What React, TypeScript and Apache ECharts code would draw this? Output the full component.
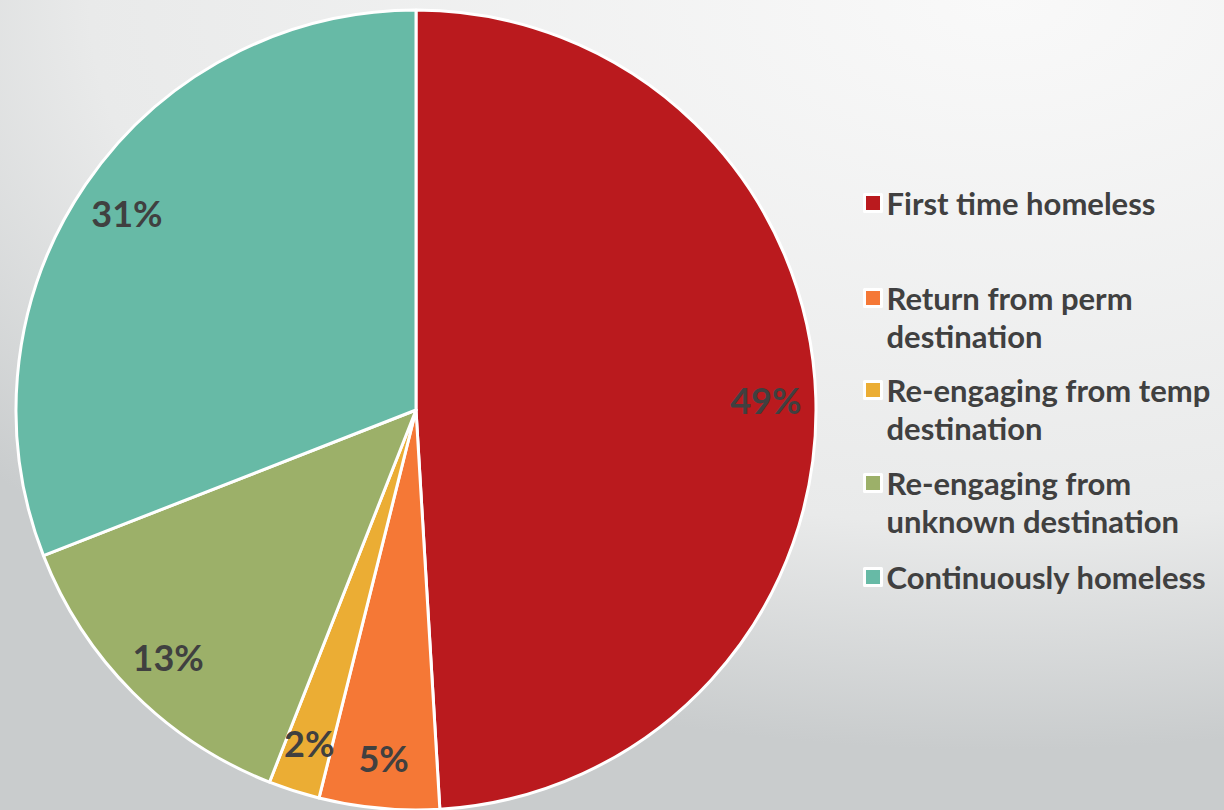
import React, { useEffect, useRef } from "react";
import * as echarts from "echarts";

const categories = [
  "First time homeless",
  "Return from perm destination",
  "Re-engaging from temp destination",
  "Re-engaging from unknown destination",
  "Continuously homeless",
];
const values = [49.05, 4.85, 2.07, 13.1, 30.93];
const legendLines = [
  ["First time homeless"],
  ["Return from perm", "destination"],
  ["Re-engaging from temp", "destination"],
  ["Re-engaging from", "unknown destination"],
  ["Continuously homeless"],
];
const colors = ["#BA1A1E", "#F57836", "#EBAD34", "#9CB069", "#67BAA6"];
const legendTops = [184, 241, 333, 426, 558];

const FONT = "Lato";
const TEXT = "#404040";

export default function App() {
  const ref = useRef<HTMLDivElement>(null);
  useEffect(() => {
    if (!ref.current) return;
    const chart = echarts.init(ref.current, null, { renderer: "svg" });
    const data = categories.map((name, i) => ({
      name,
      value: values[i],
      itemStyle: { color: colors[i] },
    }));
    const legends = categories.map((name, i) => ({
      data: [name],
      orient: "vertical",
      left: 863,
      top: legendTops[i],
      padding: 0,
      selectedMode: false,
      icon: "rect",
      itemWidth: 17,
      itemHeight: 17,
      itemStyle: { borderColor: "#ffffff", borderWidth: 3 },
      formatter: () =>
        legendLines[i].length > 1 ? " \n" + legendLines[i].join("\n") : legendLines[i][0],
      textStyle: {
        fontFamily: FONT,
        fontWeight: "bold",
        fontSize: 31,
        lineHeight: 38,
        color: TEXT,
      },
    }));
    chart.setOption({
      animation: false,
      backgroundColor: "transparent",
      legend: legends,
      series: [
        {
          type: "pie",
          center: [416, 410],
          radius: [0, 400],
          startAngle: 90,
          clockwise: true,
          silent: true,
          label: { show: false },
          labelLine: { show: false },
          itemStyle: { borderColor: "#ffffff", borderWidth: 3 },
          emphasis: { disabled: true },
          data,
        },
        {
          type: "pie",
          center: [416, 410],
          radius: [294, 400],
          startAngle: 90,
          clockwise: true,
          silent: true,
          label: {
            show: true,
            position: "inside",
            formatter: (p: any) => Math.round(p.percent) + "%",
            fontFamily: FONT,
            fontWeight: "bold",
            fontSize: 36,
            color: TEXT,
          },
          labelLine: { show: false },
          itemStyle: { color: "transparent", borderWidth: 0 },
          emphasis: { disabled: true },
          data: categories.map((name, i) => ({ name, value: values[i] })),
        },
      ],
    });
    return () => chart.dispose();
  }, []);
  return (
    <div
      ref={ref}
      style={{
        position: "absolute",
        left: 0,
        top: 0,
        width: 1224,
        height: 810,
        background:
          "radial-gradient(ellipse 1300px 750px at 1000px 0px, #f9f9f9 0%, #e9eaea 70%, #c9cccd 100%)",
      }}
    />
  );
}
